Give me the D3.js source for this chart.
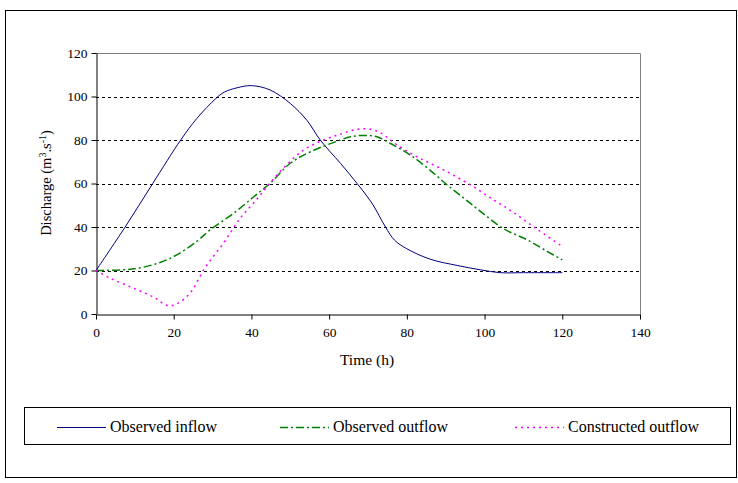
<!DOCTYPE html>
<html><head><meta charset="utf-8">
<script src="https://cdn.jsdelivr.net/npm/d3@7"></script>
<style>body{margin:0;background:#fff}svg{display:block}text{font-family:"Liberation Serif","Times New Roman",serif;fill:#000}</style>
</head><body>
<script>
const xTicks = [0,20,40,60,80,100,120,140];
const yTicks = [0,20,40,60,80,100,120];
const inflowT = [0,7.5,14.6,21.8,26,30.8,33,36.3,40,44.8,50,54.3,57.7,62.9,67.2,71,74.5,76.8,80,86,93,99,104,110,120];
const inflowV = [20,40,60,80,90,99,102,104,105,103,96.8,89,80,69.3,60,51,40,34,30,25.2,22.3,20.3,19,19,19];
const outT = [0,7,11.3,16.5,20.8,26,29.4,35.4,40.6,44.8,50,55.2,62.9,65.5,68.9,72.3,75.8,80.9,86.1,90.4,94.7,99,105,111,116.2,120];
const outV = [20,20.3,21.2,23.7,27.2,33.5,38.7,46.3,53.9,60.1,69.3,74.6,80,81.5,82.1,81.5,78.4,73.1,65.9,59.3,53.2,47.1,39.1,34.1,28.7,24.9];
const conT = [0,3.6,9.6,14.8,18.6,20.8,24.2,28,32.8,37.1,40.5,44,48.2,53.4,58.6,62.9,67.2,70.6,73.2,77.5,82.6,89.5,96.4,102.4,107.1,111.9,115.3,120];
const conV = [20,16.5,11.9,7.8,3.8,4.7,9.6,21.1,32.6,44,50.9,58.5,67,75.4,80,82.7,84.9,84.9,83.3,77.7,72.3,66.2,59.3,52.4,47.1,41,36.8,31];
const seriesNames = ["Observed inflow","Observed outflow","Constructed outflow"];
const seriesColors = ["#000080","#008000","#FF00FF"];
const seriesDash = [null,"8,3,2,3","2,4"];

const W=738,H=483;
const svg=d3.select("body").append("svg").attr("width",W).attr("height",H);
svg.append("rect").attr("x",5.5).attr("y",10.5).attr("width",731).attr("height",467).attr("fill","none").attr("stroke","#000");

const x=d3.scaleLinear().domain([0,140]).range([96,640]);
const y=d3.scaleLinear().domain([0,120]).range([314,53]);

svg.append("g").selectAll("line").data(yTicks.filter(d=>d>0&&d<120)).join("line")
 .attr("x1",x(0)).attr("x2",x(140)).attr("y1",d=>Math.round(y(d))+0.5).attr("y2",d=>Math.round(y(d))+0.5)
 .attr("stroke","#000").attr("stroke-dasharray","3,3");
svg.append("path").attr("d",`M${x(0)},${y(120)+0.5}H${x(140)+0.5}V${y(0)}`).attr("fill","none").attr("stroke","#808080");

const gx=svg.append("g").attr("transform",`translate(0,${Math.round(y(0))+0.5})`)
 .call(d3.axisBottom(x).tickValues(xTicks).tickSize(5).tickSizeOuter(0).tickPadding(8));
const gy=svg.append("g").attr("transform",`translate(${x(0)+0.5},0)`)
 .call(d3.axisLeft(y).tickValues(yTicks).tickSize(5).tickSizeOuter(0).tickPadding(4));
[gx,gy].forEach(g=>{g.selectAll("text").attr("font-size","13.5px").style("font-family","Liberation Serif");g.selectAll("line,path").attr("stroke","#000");});

const data=[d3.zip(inflowT,inflowV),d3.zip(outT,outV),d3.zip(conT,conV)];
const line=d3.line().x(d=>x(d[0])).y(d=>y(d[1])).curve(d3.curveCatmullRom.alpha(0.5));
data.forEach((d,i)=>{
 svg.append("path").datum(d).attr("d",line).attr("fill","none").attr("stroke",seriesColors[i])
  .attr("stroke-width",i==0?1:1.5).attr("stroke-dasharray",seriesDash[i]);
});

svg.append("text").attr("x",367).attr("y",365).attr("text-anchor","middle").attr("font-size","15.5px").text("Time (h)");
const yl=svg.append("text").attr("transform","translate(51,183) rotate(-90)").attr("text-anchor","middle").attr("font-size","14.5px");
yl.append("tspan").text("Discharge (m");
yl.append("tspan").attr("dy",-5).attr("font-size","10px").text("3");
yl.append("tspan").attr("dy",5).text(".s");
yl.append("tspan").attr("dy",-5).attr("font-size","10px").text("-1");
yl.append("tspan").attr("dy",5).text(")");

svg.append("rect").attr("x",24.5).attr("y",407.5).attr("width",706).attr("height",37).attr("fill","none").attr("stroke","#000");
const lx=[57,280,515];
seriesNames.forEach((n,i)=>{
 svg.append("line").attr("x1",lx[i]).attr("x2",lx[i]+49).attr("y1",427.5).attr("y2",427.5)
  .attr("stroke",seriesColors[i]).attr("stroke-width",i==0?1:1.5).attr("stroke-dasharray",seriesDash[i]);
 svg.append("text").attr("x",lx[i]+53).attr("y",432).attr("font-size","16px").text(n);
});
</script>
</body></html>
